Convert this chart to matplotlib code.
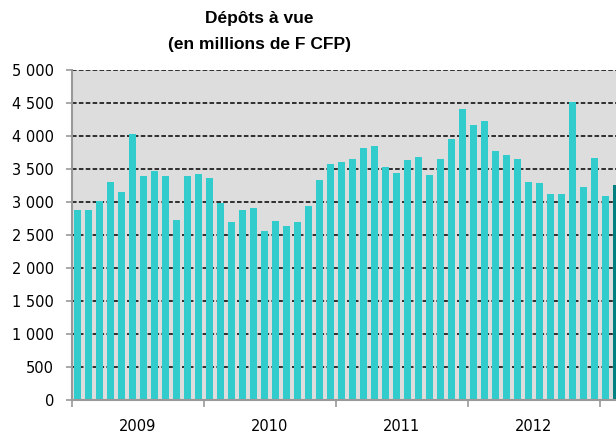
import numpy as np
import matplotlib
matplotlib.use("Agg")
import matplotlib.pyplot as plt
from matplotlib.ticker import FuncFormatter, FixedLocator

# monthly values, Jan 2009 .. Feb 2013 (millions F CFP)
dep_2009 = [2875, 2875, 3011, 3305, 3143, 4029, 3386, 3467, 3386, 2718, 3386, 3416]
dep_2010 = [3360, 2981, 2687, 2875, 2900, 2551, 2713, 2632, 2687, 2930, 3330, 3573]
dep_2011 = [3598, 3654, 3816, 3841, 3522, 3436, 3629, 3679, 3411, 3654, 3948, 4403]
dep_2012 = [4165, 4221, 3765, 3705, 3654, 3305, 3285, 3118, 3118, 4514, 3224, 3664]
dep_2013 = [3087, 3254]
years = ["2009", "2010", "2011", "2012"]

values = dep_2009 + dep_2010 + dep_2011 + dep_2012 + dep_2013
n = len(values)
x = np.arange(n)

plt.rcParams['font.family'] = ['DejaVu Sans']

fig = plt.figure(figsize=(6.16, 4.34), dpi=100)
ax = fig.add_axes([72/616, 34.5/434, 555.5/616, 329.5/434])
ax.set_facecolor("#dddddd")

colors = ["#33cccc"] * (n - 1) + ["#008080"]
widths = [0.6 if i < 42 else 0.72 for i in range(n)]
ax.bar(x, values, width=widths, color=colors, zorder=2)

ax.set_xlim(-0.5, 50)
ax.set_ylim(0, 5000)

ax.set_axisbelow(True)
ax.yaxis.grid(True, color="black", linestyle=(0, (3, 1.5)), linewidth=1.1, zorder=1)
ax.yaxis.set_major_locator(FixedLocator(np.arange(0, 5001, 500)))
ax.yaxis.set_major_formatter(FuncFormatter(lambda v, p: f"{int(v):,}".replace(",", " ")))

for s in ["top", "right"]:
    ax.spines[s].set_visible(False)
for s in ["left", "bottom"]:
    ax.spines[s].set_color("#999999")
    ax.spines[s].set_linewidth(1.5)

# year boundaries as major ticks, year names as minor tick labels
bounds = [-0.5 + 12 * i for i in range(len(years) + 1)]
mids = [5.5 + 12 * i for i in range(len(years))]
ax.set_xticks(bounds)
ax.set_xticklabels([])
ax.set_xticks(mids, minor=True)
ax.set_xticklabels(years, minor=True)
ax.tick_params(axis="x", which="major", length=5, width=1.2, color="#999999")
ax.tick_params(axis="x", which="minor", length=0, pad=14, labelsize=10.5)
ax.tick_params(axis="y", length=4, width=1.2, color="#999999", pad=9, labelsize=10.5)

title_font = dict(family=["Liberation Sans", "DejaVu Sans"], fontsize=12.5, fontweight="bold")
fig.text(259/616, 1 - 18/434, "Dépôts à vue", ha="center", va="center", **title_font)
fig.text(259/616, 1 - 45/434, "(en millions de F CFP)", ha="center", va="center", **title_font)

fig.savefig("out.png", dpi=100)
